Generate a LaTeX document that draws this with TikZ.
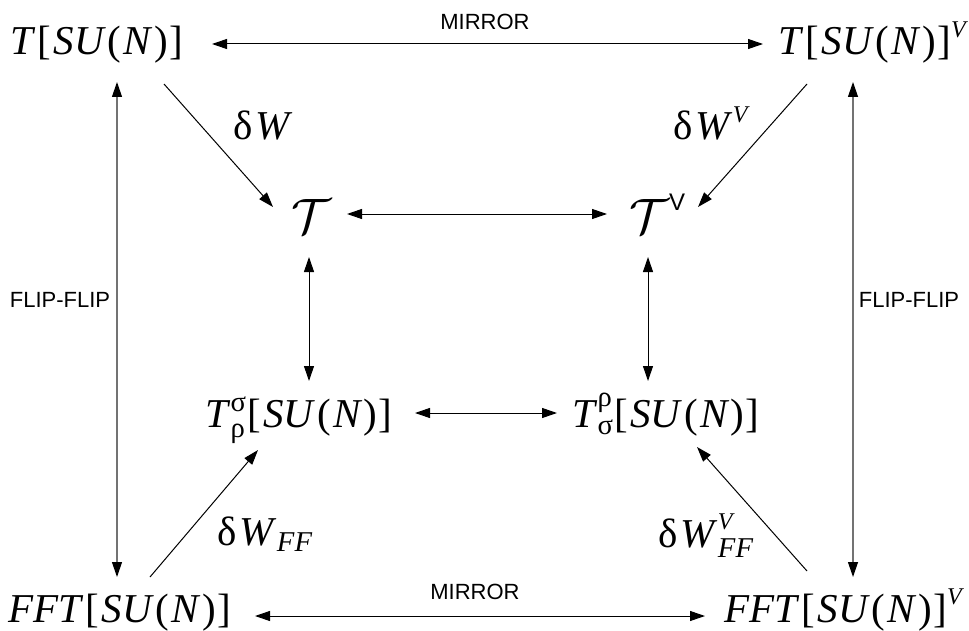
\documentclass[tikz,border=0pt]{standalone}
\usepackage{amsmath}
\usepackage{fontspec}
\setmainfont{Liberation Serif}
\setsansfont{Liberation Sans}
\usetikzlibrary{arrows.meta}

% pieces of the formulas
\newcommand{\vT}{\textit{T}}
\newcommand{\sun}{[\kern1.2pt\textit{SU}\kern0.8pt(\kern1.2pt\textit{N}\kern0.8pt)\kern0.6pt]}
\newcommand{\dW}{δ\kern1.5pt\textit{W}}
\newcommand{\supV}{\text{\fontsize{12}{13}\selectfont\textit{V}}}

\begin{document}
\begin{tikzpicture}[x=0.5pt,y=-0.5pt,
  >={Triangle[length=7.5pt,width=5pt]},
  eq/.style={font=\fontsize{20.5}{24}\selectfont, inner sep=0pt},
  cal/.style={font=\fontsize{36}{40}\selectfont, inner sep=0pt},
  lbl/.style={font=\sffamily\fontsize{11}{13}\selectfont, inner sep=0pt},
  line/.style={line width=0.5pt},
  flip/.style={line width=0.6pt, draw=black!55,
    {Triangle[length=7.5pt,width=5pt,black]}-{Triangle[length=7.5pt,width=5pt,black]}}]
\useasboundingbox (0,0) rectangle (969,631);

% corners
\node[eq, anchor=base west] (tl) at (10,55) {$\text{\vT\kern1pt\sun}$};
\node[eq, anchor=base west] (tr) at (778,55) {$\text{\vT\kern1pt\sun}^{\supV}$};
\node[eq, anchor=base west] (fl) at (8,622) {$\text{\textit{FFT}\kern1pt\sun}$};
\node[eq, anchor=base west] (fr) at (724,622) {$\text{\textit{FFT}\kern1pt\sun}^{\supV}$};

% inner square
\node[cal, anchor=base west] (cl) at (291,233) {$\mathcal{T}$};
\node[cal, anchor=base west] (cr) at (629,233) {$\mathcal{T}^{\raisebox{2pt}{\sffamily\fontsize{12}{13}\selectfont V}}$};
\node[eq, anchor=base west] (ml) at (205,427) {$\text{\vT}^{\text{σ}}_{\text{ρ}}\text{\sun}$};
\node[eq, anchor=base west] (mr) at (572,427) {$\text{\vT}^{\text{ρ}}_{\text{σ}}\text{\sun}$};

% labels
\node[eq, anchor=base west] (dw) at (233,140) {$\text{\dW}$};
\node[eq, anchor=base west] (dwv) at (673,140) {$\text{\dW}^{\supV}$};
\node[eq, anchor=base west] (dwff) at (217,545) {$\text{\dW}_{\text{\textit{FF}}}$};
\node[eq, anchor=base west] (dwvff) at (658,547) {$\text{\dW}^{\supV}_{\text{\textit{FF}}}$};
\node[lbl] (mt) at (485,22) {MIRROR};
\node[lbl] (mb) at (475,592) {MIRROR};
\node[lbl] (fl1) at (60,300) {FLIP-FLIP};
\node[lbl] (fl2) at (909,300) {FLIP-FLIP};

% outer arrows
\draw[line, <->] ([shift={(202,-11)}]tl.base west) -- ([shift={(-15,-11)}]tr.base west);
\draw[line, <->] ([shift={(247,-6)}]fl.base west) -- ([shift={(-19,-6)}]fr.base west);
\draw[flip] ([shift={(107,27)}]tl.base west) -- ([shift={(109,-45)}]fl.base west);
\draw[flip] ([shift={(75,27)}]tr.base west) -- ([shift={(129,-45)}]fr.base west);

% deformations
\draw[line, ->] ([shift={(154,29)}]tl.base west) -- ([shift={(-18,-26)}]cl.base west);
\draw[line, ->] ([shift={(29,29)}]tr.base west) -- ([shift={(69,-26)}]cr.base west);
\draw[line, ->] ([shift={(142,-45)}]fl.base west) -- ([shift={(53,23)}]ml.base west);
\draw[line, ->] ([shift={(83,-51)}]fr.base west) -- ([shift={(125,20)}]mr.base west);

% inner arrows
\draw[line, <->] ([shift={(56,-19)}]cl.base west) -- ([shift={(-22,-19)}]cr.base west);
\draw[line, <->] ([shift={(210,-14)}]ml.base west) -- ([shift={(-15,-14)}]mr.base west);
\draw[line, <->] ([shift={(18,24)}]cl.base west) -- ([shift={(104,-46)}]ml.base west);
\draw[line, <->] ([shift={(19,24)}]cr.base west) -- ([shift={(76,-46)}]mr.base west);
\end{tikzpicture}
\end{document}
